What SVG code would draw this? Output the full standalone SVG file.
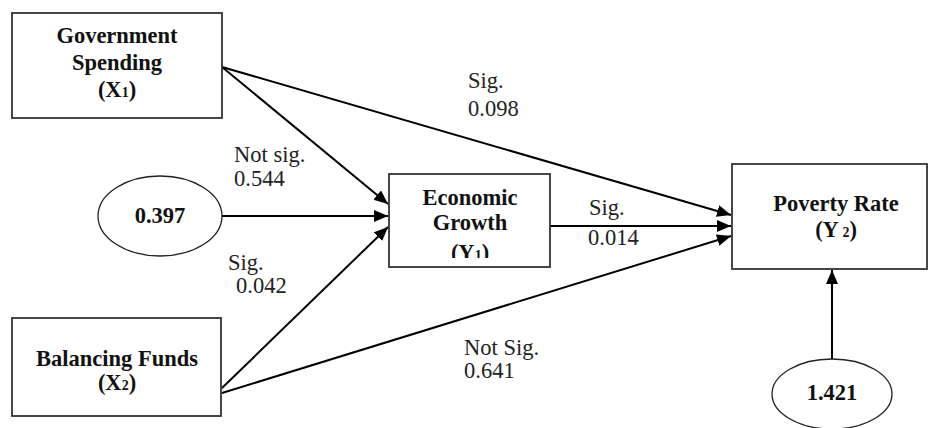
<svg xmlns="http://www.w3.org/2000/svg" width="929" height="428" viewBox="0 0 929 428">
<style>
.box{fill:#fff;stroke:#333;stroke-width:1.8}
.ell{fill:#fff;stroke:#222;stroke-width:1.3}
.b{font-family:"Liberation Serif",serif;font-weight:bold;font-size:22.5px;fill:#111;text-anchor:middle}
.l{font-family:"Liberation Serif",serif;font-size:22.5px;fill:#222}
.c{stroke:#000;stroke-width:2;fill:none;marker-end:url(#ah)}
</style>
<defs>
<marker id="ah" markerUnits="userSpaceOnUse" markerWidth="16" markerHeight="14" refX="14" refY="6" orient="auto">
<path d="M0,0 L14,6 L0,12 Z" fill="#000"/>
</marker>
<clipPath id="econClip"><rect x="389" y="174" width="161" height="84"/></clipPath>
</defs>
<g id="connectors">
<line class="c" x1="222" y1="67" x2="388" y2="204"/>
<line class="c" x1="222" y1="216" x2="388" y2="216"/>
<line class="c" x1="222" y1="388" x2="388" y2="227"/>
<line class="c" x1="222" y1="67" x2="731" y2="215"/>
<line class="c" x1="550" y1="226" x2="731" y2="226"/>
<line class="c" x1="222" y1="393" x2="731" y2="236"/>
<line class="c" x1="832" y1="359" x2="832" y2="270"/>
</g>
<g id="labels">
<text class="l" x="468" y="88">Sig.</text>
<text class="l" x="468" y="116">0.098</text>
<text class="l" x="234" y="162">Not sig.</text>
<text class="l" x="234" y="186">0.544</text>
<text class="l" x="228" y="270">Sig.</text>
<text class="l" x="236" y="293">0.042</text>
<text class="l" x="589" y="215">Sig.</text>
<text class="l" x="588" y="245">0.014</text>
<text class="l" x="464" y="355">Not Sig.</text>
<text class="l" x="464" y="378">0.641</text>
</g>
<g id="gov">
<rect class="box" x="12" y="13" width="210" height="105"/>
<text class="b" x="117" y="43">Government</text>
<text class="b" x="117" y="70">Spending</text>
<text class="b" x="117" y="97">(X<tspan font-size="14">1</tspan>)</text>
</g>
<g id="err1">
<ellipse class="ell" cx="160" cy="216" rx="62" ry="40"/>
<text class="b" x="160" y="223">0.397</text>
</g>
<g id="bal">
<rect class="box" x="12" y="318" width="209" height="98"/>
<text class="b" x="117" y="366">Balancing Funds</text>
<text class="b" x="117" y="390">(X<tspan font-size="14">2</tspan>)</text>
</g>
<g id="econ">
<rect class="box" x="389" y="174" width="161" height="93"/>
<text class="b" x="470" y="205">Economic</text>
<text class="b" x="470" y="230">Growth</text>
<text class="b" x="470" y="260" clip-path="url(#econClip)">(Y<tspan font-size="14">1</tspan>)</text>
</g>
<g id="pov">
<rect class="box" x="732" y="164" width="195" height="105"/>
<text class="b" x="836" y="211">Poverty Rate</text>
<text class="b" x="836" y="237">(Y<tspan font-size="14"> 2</tspan>)</text>
</g>
<g id="err2">
<ellipse class="ell" cx="832" cy="394" rx="60" ry="35"/>
<text class="b" x="832" y="400" font-size="18">1.421</text>
</g>
</svg>
